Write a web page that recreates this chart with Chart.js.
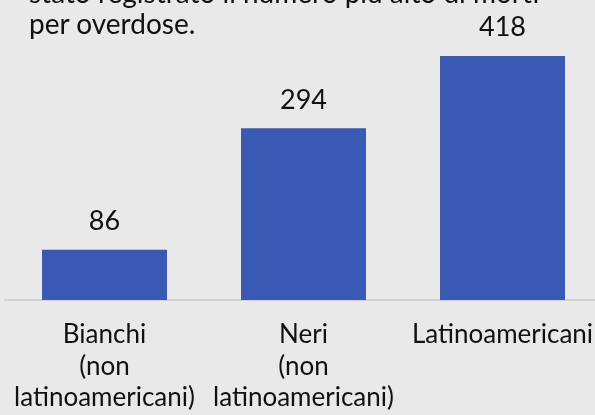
<!DOCTYPE html>
<html>
<head>
<meta charset="utf-8">
<script src="https://cdn.jsdelivr.net/npm/chart.js@4/dist/chart.umd.min.js"></script>
<style>
    html, body { margin: 0; padding: 0; background: #e9e9e9; overflow: hidden; }
    #wrap { position: relative; width: 602px; height: 415px; }
    #note {
        position: absolute; left: 29px; top: -23px;
        font-family: Lato, sans-serif; font-size: 28px; line-height: 31px;
        color: #111; white-space: nowrap; z-index: 2;
    }
</style>
</head>
<body>
<div id="wrap">
    <div id="note">stato registrato il numero più alto di morti<br>per overdose.</div>
    <canvas id="chart"></canvas>
</div>
<script>
    // ---------------- data ----------------
    var categories = [
        ['Bianchi', '(non', 'latinoamericani)'],
        ['Neri', '(non', 'latinoamericani)'],
        ['Latinoamericani']
    ]
    var deaths = [86, 294, 418]
    var barColor = '#3a59b5'

    // value labels above the bars
    var valueLabels = {
        id: 'valueLabels',
        afterDatasetsDraw: function (chart) {
            var ctx = chart.ctx
            var meta = chart.getDatasetMeta(0)
            ctx.save()
            ctx.font = '27px Lato'
            ctx.fillStyle = '#111'
            ctx.textAlign = 'center'
            ctx.textBaseline = 'alphabetic'
            meta.data.forEach(function (bar, i) {
                ctx.fillText(deaths[i], bar.x, bar.y - 19.5)
            })
            ctx.restore()
        }
    }

    var chart = new Chart(document.getElementById('chart'), {
        type: 'bar',
        data: {
            labels: categories,
            datasets: [{
                data: deaths,
                backgroundColor: barColor,
                borderWidth: 0,
                categoryPercentage: 1,
                barPercentage: 0.628
            }]
        },
        options: {
            responsive: true,
            maintainAspectRatio: false,
            animation: false,
            layout: { padding: { left: 5, right: 0, top: 8, bottom: 1 } },
            plugins: {
                legend: { display: false },
                tooltip: { enabled: false }
            },
            scales: {
                x: {
                    grid: { display: false, drawTicks: false },
                    border: { display: true, color: '#d2d2d2', width: 2 },
                    ticks: {
                        color: '#111',
                        padding: 19,
                        maxRotation: 0,
                        autoSkip: false,
                        font: { family: 'Lato', size: 26, lineHeight: 1.21 }
                    },
                    afterFit: function (scale) {
                        // keep the plot full width and the axis band fixed
                        scale.paddingLeft = 0
                        scale.paddingRight = 0
                        scale.height = 114
                    }
                },
                y: {
                    display: false,
                    min: 0,
                    max: 500
                }
            }
        },
        plugins: [valueLabels]
    })
</script>
</body>
</html>
